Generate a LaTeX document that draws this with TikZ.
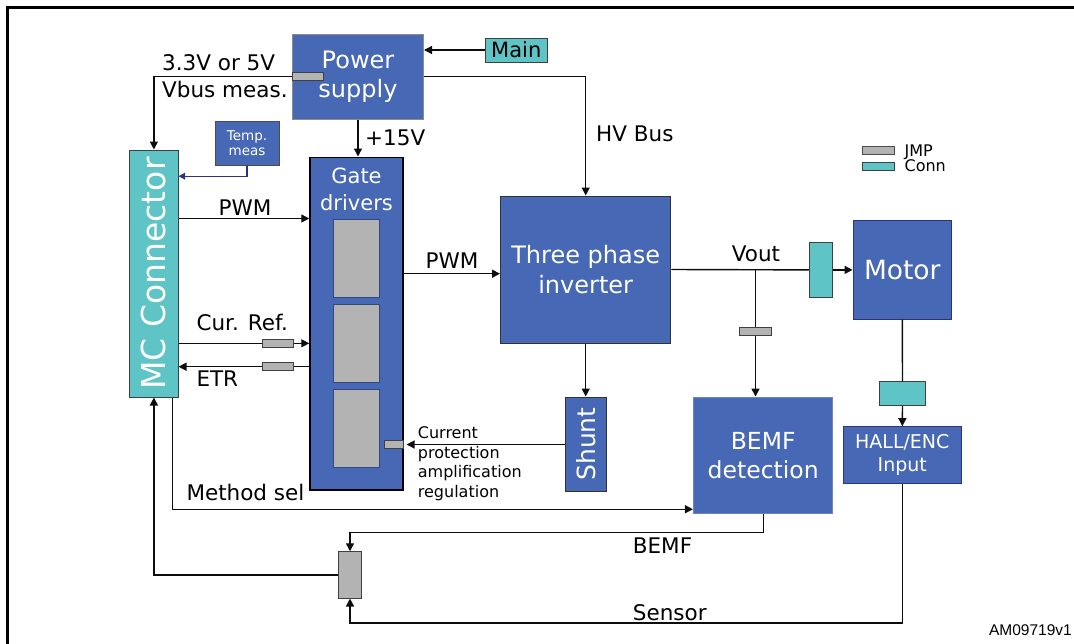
\documentclass[tikz,border=0pt]{standalone}
\usepackage{fontspec}
\setmainfont{DejaVu Sans}
\newfontfamily\refsans{Liberation Sans}
\usepackage{xcolor}
\usetikzlibrary{arrows.meta}

\definecolor{stblue}{RGB}{71,104,180}
\definecolor{stcyan}{RGB}{94,196,198}
\definecolor{stgray}{RGB}{179,179,179}
\definecolor{stnavy}{RGB}{44,50,130}
\newcommand{\sizefont}[2]{\fontsize{#1}{#2}\selectfont}

\tikzset{
  blockbox/.style={draw=black!70, line width=1pt, fill=stblue, text=white, inner sep=0pt, align=center},
  connbox/.style={draw=black!75, line width=1pt, fill=stcyan, inner sep=0pt},
  jmpbox/.style={draw=black!75, line width=1pt, fill=stgray, inner sep=0pt},
  wire/.style={line width=1.4pt, black!95},
  sig/.style={wire, -{Triangle[length=8pt,width=8pt]}},
  lbl/.style={inner sep=0pt, font=\sizefont{21.5}{26.7}}
}

\begin{document}
\begin{tikzpicture}[x=1pt,y=-1pt]
\useasboundingbox (0,0) rectangle (1074,643);
\draw[line width=2.5pt] (7.6,660) -- (7.6,7.3) -- (1090,7.3);

\node[blockbox, draw=black!45, minimum width=131pt, minimum height=85pt, font=\sizefont{24}{29}] (power) at (358,76.5) {Power\\supply};
\node[connbox, minimum width=62.5pt, minimum height=24pt, font=\sizefont{21}{25}] (main) at (516.3,50) {Main};
\node[jmpbox, minimum width=30.6pt, minimum height=8pt] (psj) at (307.7,76.7) {};
\node[connbox, minimum width=48.2pt, minimum height=247pt] (mc) at (153.9,273.5) {};
\node[text=white, rotate=90, inner sep=0pt, font=\sizefont{33}{36}] (mctext) at (mc) {MC Connector};
\node[blockbox, minimum width=64pt, minimum height=43.3pt, font=\sizefont{13.5}{15}] (temp) at (247,143.6) {Temp.\\meas};
\node[blockbox, draw=black, line width=1.5pt, minimum width=93pt, minimum height=332.7pt] (gate) at (356.5,323.6) {};
\node[text=white, align=center, inner sep=0pt, anchor=north, font=\sizefont{21}{27}] (gatetext) at (356.5,167.7) {Gate\\drivers};
\foreach \n/\y in {1/258,2/343,3/428}
  \node[jmpbox, draw=stblue!70!black, minimum width=46.5pt, minimum height=78pt] (drv\n) at (356.7,\y) {};
\node[jmpbox, minimum width=31.4pt, minimum height=8pt] (crj) at (278.1,343.3) {};
\node[jmpbox, minimum width=31.4pt, minimum height=8pt] (etj) at (278.1,366.7) {};
\node[blockbox, draw=black!80, minimum width=170.4pt, minimum height=147pt, font=\sizefont{24}{30}] (inv) at (585.7,269.5) {Three phase\\inverter};
\node[blockbox, draw=black!80, minimum width=40.6pt, minimum height=94pt] (shunt) at (585.7,444) {};
\node[text=white, rotate=90, inner sep=0pt, font=\sizefont{25}{28}] (shunttext) at (shunt) {Shunt};
\node[connbox, minimum width=23.3pt, minimum height=54.3pt] (vconn) at (821.3,269.9) {};
\node[blockbox, draw=stnavy, minimum width=98.5pt, minimum height=98.3pt, font=\sizefont{26.5}{30}] (motor) at (902.3,269.9) {Motor};
\node[jmpbox, minimum width=32pt, minimum height=8pt] (vj) at (755.5,331) {};
\node[connbox, minimum width=46.1pt, minimum height=23.3pt] (mconn) at (902.5,393.4) {};
\node[blockbox, draw=stnavy, minimum width=117.9pt, minimum height=56.6pt, font=\sizefont{19}{23}] (hall) at (902.3,455) {HALL/ENC\\Input};
\node[blockbox, draw=stblue!80!white, minimum width=139.5pt, minimum height=116.3pt, font=\sizefont{23.5}{29}] (bemf) at (763.2,455.2) {BEMF\\detection};
\node[jmpbox, minimum width=23.1pt, minimum height=46.3pt] (mux) at (350,574.9) {};
\node[jmpbox, minimum width=18.3pt, minimum height=8pt] (gj) at (393.9,444.5) {};

\draw[sig] (main.west) -- (main.west -| power.east);
\draw[sig] (power.east) -| (inv.north);
\draw[sig] (psj.west) -| (mc.north);
\draw[sig] (power.south) -- (power.south |- gate.north);
\draw[sig, stnavy, -{Triangle[length=6.5pt,width=6.5pt]}] (temp.south) |- ([yshift=-26.7pt]mc.north east);
\draw[sig] (mc.east |- drv1.north) -- (gate.west |- drv1.north);
\draw[wire] (mc.east |- crj) -- (crj.west);
\draw[sig] (crj.east) -- (gate.west |- crj);
\draw[wire] (gate.west |- etj) -- (etj.east);
\draw[sig] (etj.west) -- (mc.east |- etj);
\coordinate (pwmin) at ([yshift=-4.2pt]inv.west);
\draw[sig] (gate.east |- pwmin) -- (pwmin);
\draw[wire] (inv.east) -- (vconn.west);
\draw[sig] (vconn.east) -- (motor.west);
\coordinate (vtap) at (inv.east -| vj);
\draw[wire] (vtap) -- (vj.north);
\draw[sig] (vj.south) -- (vj.south |- bemf.north);
\draw[wire] (motor.south) -- (mconn.north);
\draw[sig] (mconn.south) -- (hall.north);
\draw[sig] (inv.south) -- (shunt.north);
\draw[sig, shorten >=3pt] (shunt.west |- gj) -- (gj.east);
\draw[sig] ([xshift=-6.2pt]mc.south east) |- ([yshift=4.6pt]bemf.south west);
\draw[sig] (mux.west) -| (mc.south);
\coordinate (bemfbus) at ([yshift=-18.7pt]bemf.south);
\draw[sig] (bemf.south) -- (bemfbus) -| (mux.north);
\coordinate (sensbus) at ([yshift=-24.3pt]mux.south);
\draw[sig] (hall.south) |- (sensbus) -- (mux.south);

\node[lbl, anchor=north west, align=left] (vbus) at (162,54.3) {3.3V or 5V\\Vbus meas.};
\node[lbl, anchor=base west] (v15) at (365,145) {+15V};
\node[lbl, anchor=base west] (hvbus) at (596,141.7) {HV Bus};
\node[lbl, anchor=base] (pwmgate) at (245,215) {PWM};
\node[lbl, anchor=base west] (curref) at (196.3,330) {Cur. Ref.};
\node[lbl, anchor=base west] (etr) at (196.3,386.7) {ETR};
\node[lbl, anchor=base] (pwminv) at (452,268.3) {PWM};
\node[lbl, anchor=base] (vout) at (756,261.7) {Vout};
\node[inner sep=0pt, anchor=north west, align=left, font=\sizefont{16}{19.7}] (curlbl) at (417.7,426.3) {Current\\protection\\amplification\\regulation};
\node[lbl, anchor=base west] (msel) at (186.3,500) {Method sel};
\node[lbl, anchor=base west] (bemflbl) at (632.7,553.3) {BEMF};
\node[lbl, anchor=base west] (sensor) at (632.7,620) {Sensor};

\node[jmpbox, draw=black!70, minimum width=31.3pt, minimum height=8.3pt] (jmpkey) at (878.5,150.8) {};
\node[connbox, minimum width=31.3pt, minimum height=8.4pt] (connkey) at (878.5,166.5) {};
\node[inner sep=0pt, anchor=base west, font=\sizefont{16}{19}] (jmptext) at (904.4,156) {JMP};
\node[inner sep=0pt, anchor=base west, font=\sizefont{16}{19}] (conntext) at (904.4,171.7) {Conn};
\node[inner sep=0pt, anchor=base east, font=\refsans\sizefont{15.5}{18}] (figid) at (1072,635) {AM09719v1};
\end{tikzpicture}
\end{document}
